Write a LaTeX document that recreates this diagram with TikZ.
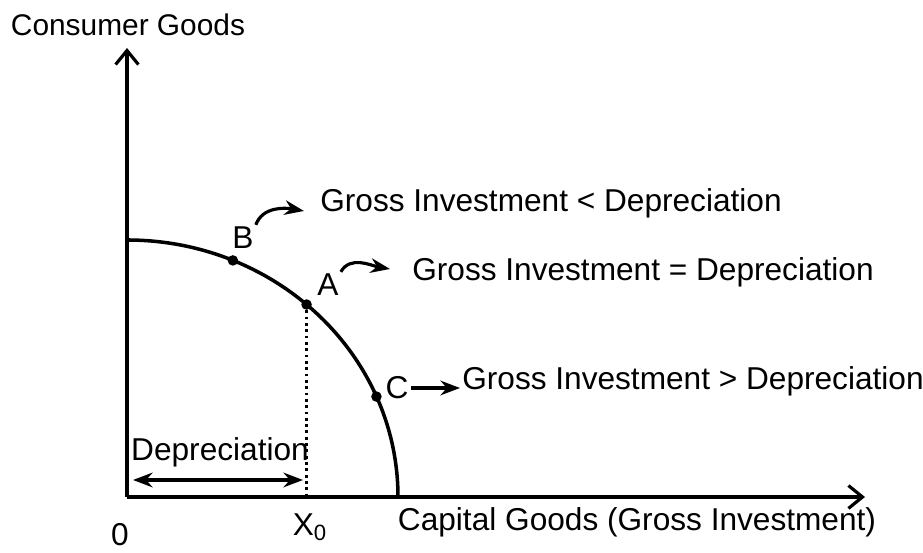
\documentclass[tikz,border=0pt]{standalone}
\usepackage{fontspec}
\setmainfont{Liberation Sans}
\usetikzlibrary{positioning, arrows.meta}

\begin{document}
\begin{tikzpicture}[x=0.02cm,y=0.02cm,>=Stealth,semithick,
    axis/.style={line width=2pt,-{Straight Barb[length=8pt,width=13pt,line width=1.8pt]}},
    lbl/.style={font=\fontsize{18}{21}\selectfont,inner sep=1pt},
    dot/.style={circle,fill,inner sep=0pt,minimum size=6pt},
    pointer/.style={->,line width=1.8pt}]
  \useasboundingbox (0,0) rectangle (923,553);
  \coordinate (origin) at (127,56);
  \coordinate (ytop) at (127,505);
  \coordinate (xend) at (865,56);
  \draw[axis] (origin) -- (ytop);
  \draw[axis] (origin) -- (xend);
  \node[lbl,font=\fontsize{17}{20}\selectfont] (ylab) at (128,528) {Consumer Goods};
  \node[lbl] (xlab) at (637,31) {Capital Goods (Gross Investment)};
  \node[lbl] (zero) at (120,18) {0};

  % production possibility curve
  \draw[line width=2pt] (127,313) arc[start angle=90,end angle=0,x radius=271,y radius=257];
  \node[dot] (B) at ({127+271*cos(67)},{56+257*sin(67)}) {};
  \node[dot] (A) at ({127+271*cos(48.5)},{56+257*sin(48.5)}) {};
  \node[dot] (C) at ({127+271*cos(23)},{56+257*sin(23)}) {};
  \node[lbl] (Blab) at (243,315) {B};
  \node[lbl] (Alab) at (328,268) {A};
  \node[lbl] (Clab) at (397,165) {C};

  \draw[dotted,line width=1.6pt] (A) -- (A |- origin);
  \node[lbl] (x0) at (310,26) {X\textsubscript{0}};

  % depreciation
  \coordinate (depL) at (133,73);
  \coordinate (depR) at (303,73);
  \draw[<->,line width=1.8pt] (depL) -- (depR);
  \node[lbl] (deptext) at (220,101) {Depreciation};

  \node[lbl,anchor=west] (Btext) at (318,350) {Gross Investment < Depreciation};
  \node[lbl,anchor=west] (Atext) at (410,281) {Gross Investment = Depreciation};
  \node[lbl,anchor=west] (Ctext) at (460,172) {Gross Investment > Depreciation};

  \draw[pointer] (Blab.north east) to[out=70,in=170] ([shift={(-14,-8)}]Btext.west);
  \draw[pointer] (Alab.north east) to[out=60,in=170] ([shift={(-20,3)}]Atext.west);
  \draw[pointer] (Clab.east) -- (Ctext.west |- Clab.east);
\end{tikzpicture}
\end{document}
